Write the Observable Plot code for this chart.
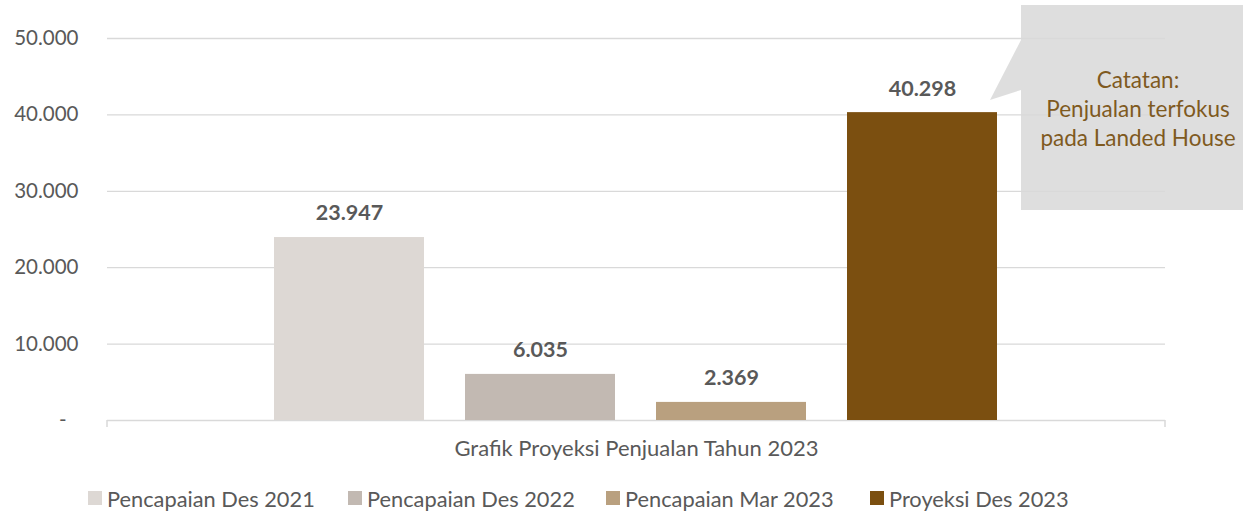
<!DOCTYPE html>
<html>
<head>
<meta charset="utf-8">
<script src="https://cdn.jsdelivr.net/npm/d3@7"></script>
<script src="https://cdn.jsdelivr.net/npm/@observablehq/plot@0.6"></script>
<style>
  html, body { margin: 0; padding: 0; background: #fff; }
  #wrap { width: 1245px; height: 514px; position: relative; overflow: hidden; font-family: Lato, "Open Sans", sans-serif; }
  #legend { position: relative; width: 1245px; height: 44px; }
  .item { position: absolute; top: 6px; height: 44px; display: flex; align-items: center; font-size: 21.8px; color: #595959; white-space: nowrap; }
  .sw { width: 14px; height: 14px; margin-right: 5px; }
</style>
</head>
<body>
<div id="wrap"><div id="chart"></div><div id="legend"></div></div>
<script>
const categories = ["Grafik Proyeksi Penjualan Tahun 2023"];
const series = ["Pencapaian Des 2021", "Pencapaian Des 2022", "Pencapaian Mar 2023", "Proyeksi Des 2023"];
const values = [23947, 6035, 2369, 40298];
const colors = ["#DDD8D4", "#C2B9B2", "#B9A07F", "#7B4F10"];
const yTicks = [0, 10000, 20000, 30000, 40000, 50000];
const noteLines = ["Catatan:", "Penjualan terfokus", "pada Landed House"];

const locale = d3.formatLocale({decimal: ",", thousands: ".", grouping: [3], currency: ["", ""]});
const fmtNum = locale.format(",d");
const tickFmt = d => d === 0 ? "-\u2007" : fmtNum(d);

const data = series.map((s, i) => ({category: categories[0], series: s, value: values[i]}));

const chart = Plot.plot({
  width: 1245,
  height: 470,
  marginLeft: 107,
  marginRight: 80,
  marginTop: 38,
  marginBottom: 50,
  style: {fontFamily: "Lato, 'Open Sans', sans-serif", fontSize: "20.5px", color: "#595959", background: "white", overflow: "visible"},
  x: {domain: series, paddingInner: 0.2135, paddingOuter: 0.862, axis: null},
  y: {domain: [0, 50000], ticks: yTicks, tickFormat: tickFmt, tickSize: 0, tickPadding: 29, label: null},
  color: {domain: series, range: colors},
  marks: [
    Plot.ruleY(yTicks.filter(d => d > 0), {stroke: "#D9D9D9", strokeWidth: 1.3}),
    Plot.ruleY([0], {stroke: "#D9D9D9", strokeWidth: 1.5}),
    Plot.barY(data, {x: "series", y: "value", fill: "series"}),
    Plot.text(data, {x: "series", y: "value", text: d => fmtNum(d.value), dy: -24, fontWeight: "bold", fontSize: 21.5, fill: "#595959"}),
    Plot.text(categories, {frameAnchor: "bottom", dy: 35, text: d => d, fill: "#595959", fontSize: 22})
  ]
});
document.getElementById("chart").appendChild(chart);

// axis end ticks and callout annotation
const svg = d3.select(chart);
const ann = svg.append("g");
[107, 1165].forEach(x => ann.append("line").attr("x1", x).attr("x2", x).attr("y1", 420).attr("y2", 427).attr("stroke", "#D9D9D9").attr("stroke-width", 1.5));
ann.append("path")
  .attr("d", "M1021,5 L1243,5 L1243,210 L1021,210 L1021,90 L990,100 L1021,40 Z")
  .attr("fill", "#D8D8D8").attr("fill-opacity", 0.85);
const t = ann.append("text").attr("text-anchor", "middle").attr("fill", "#7F5A1F").attr("font-size", 22.5);
noteLines.forEach((l, i) => t.append("tspan").attr("x", 1138).attr("y", 80 + i * 29).attr("dy", "0.35em").text(l));

// legend
const legend = d3.select("#legend");
const legendX = [88, 348, 606, 870];
series.forEach((s, i) => {
  const it = legend.append("div").attr("class", "item").style("left", legendX[i] + "px");
  it.append("div").attr("class", "sw").style("background", colors[i]);
  it.append("span").text(s);
});
</script>
</body>
</html>
